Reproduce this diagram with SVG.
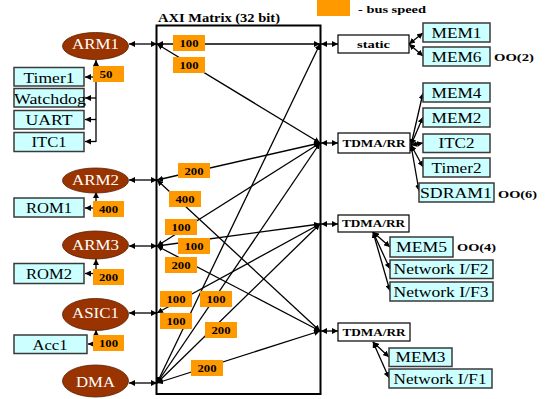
<svg xmlns="http://www.w3.org/2000/svg" width="546" height="399" viewBox="0 0 546 399">
<style>
.e{fill:#993300;stroke:#5a1e00;stroke-width:0.8}
.et{font-family:"Liberation Serif",serif;font-size:14px;fill:#fff;text-anchor:middle}
.b{fill:#ccffff;stroke:#3a3a3a;stroke-width:1.5}
.w{fill:#fff;stroke:#000;stroke-width:1.2}
.t{font-family:"Liberation Serif",serif;font-size:14px;fill:#000;text-anchor:middle}
.s{font-family:"Liberation Serif",serif;font-size:10px;font-weight:bold;fill:#000;text-anchor:middle}
.o{fill:#ff9900}
.ot{font-family:"Liberation Serif",serif;font-size:10.5px;font-weight:bold;fill:#000;text-anchor:middle}
.l{fill:none;stroke:#000;stroke-width:1.3;marker-end:url(#a)}
.d{fill:none;stroke:#000;stroke-width:1.3;marker-start:url(#a);marker-end:url(#a)}
</style>
<defs>
<marker id="a" viewBox="0 0 6 6" refX="6" refY="3" markerWidth="6" markerHeight="6" markerUnits="userSpaceOnUse" orient="auto-start-reverse"><path d="M0,0 L6,3 L0,6 z" fill="#000"/></marker>
</defs>

<!-- legend -->
<g id="legend">
<rect class="o" x="317" y="0" width="33" height="16"/>
<text x="358" y="13" font-family="Liberation Serif,serif" font-size="11" font-weight="bold" textLength="68" lengthAdjust="spacingAndGlyphs">- bus speed</text>
</g>

<!-- matrix -->
<g id="matrix">
<rect x="156.5" y="25.5" width="164" height="368.5" fill="none" stroke="#000" stroke-width="2"/>
<text x="158" y="22" font-family="Liberation Serif,serif" font-size="11.5" font-weight="bold" textLength="122" lengthAdjust="spacingAndGlyphs">AXI Matrix (32 bit)</text>
</g>

<g id="connectors">
<!-- ellipse to matrix -->
<line class="d" x1="129" y1="44" x2="157" y2="44"/>
<line class="d" x1="129" y1="180" x2="157" y2="180"/>
<line class="d" x1="129" y1="246" x2="157" y2="246"/>
<line class="d" x1="129" y1="313" x2="157" y2="313"/>
<line class="d" x1="129" y1="383" x2="157" y2="383"/>
<!-- matrix internal -->
<line class="d" x1="157" y1="44" x2="320" y2="44"/>
<line class="d" x1="157" y1="44" x2="320" y2="143"/>
<line class="d" x1="157" y1="180" x2="320" y2="143"/>
<line class="d" x1="157" y1="180" x2="320" y2="331"/>
<line class="d" x1="157" y1="246" x2="320" y2="143"/>
<line class="d" x1="157" y1="246" x2="320" y2="224"/>
<line class="d" x1="157" y1="246" x2="320" y2="331"/>
<line class="d" x1="157" y1="313" x2="320" y2="224"/>
<line class="d" x1="157" y1="383" x2="320" y2="44"/>
<line class="d" x1="157" y1="383" x2="320" y2="143"/>
<line class="d" x1="157" y1="383" x2="320" y2="224"/>
<line class="d" x1="157" y1="383" x2="320" y2="331"/>
<!-- matrix to arbiters -->
<line class="d" x1="321" y1="44" x2="338" y2="44"/>
<line class="d" x1="321" y1="143" x2="338" y2="143"/>
<line class="d" x1="321" y1="224" x2="338" y2="224"/>
<line class="d" x1="321" y1="331" x2="338" y2="331"/>
<!-- static -->
<line class="d" x1="409" y1="44" x2="423" y2="33"/>
<line class="d" x1="409" y1="44" x2="423" y2="56"/>
<!-- TDMA1 -->
<line class="d" x1="411" y1="145" x2="423" y2="93"/>
<line class="d" x1="411" y1="145" x2="423" y2="117"/>
<line class="d" x1="411" y1="145" x2="423" y2="143"/>
<line class="d" x1="411" y1="145" x2="423" y2="167"/>
<line class="d" x1="411" y1="145" x2="419" y2="191"/>
<!-- TDMA2 -->
<line class="d" x1="373" y1="232" x2="390" y2="247"/>
<line class="d" x1="373" y1="232" x2="390" y2="269"/>
<line class="d" x1="373" y1="232" x2="390" y2="291"/>
<!-- TDMA3 -->
<line class="d" x1="373" y1="342" x2="389" y2="357"/>
<line class="d" x1="373" y1="342" x2="389" y2="378"/>
<!-- left peripherals -->
<line class="l" x1="96" y1="142" x2="96" y2="60"/>
<line class="l" x1="96" y1="77" x2="85" y2="77"/>
<line class="l" x1="96" y1="98" x2="85" y2="98"/>
<line class="l" x1="96" y1="119.5" x2="85" y2="119.5"/>
<line class="l" x1="96" y1="141.5" x2="85" y2="141.5"/>
<line class="l" x1="96" y1="208" x2="96" y2="192"/>
<line class="l" x1="96" y1="208" x2="85" y2="208"/>
<line class="l" x1="96" y1="273.5" x2="96" y2="259"/>
<line class="l" x1="96" y1="273.5" x2="85" y2="273.5"/>
<line class="l" x1="96" y1="344" x2="96" y2="330"/>
<line class="l" x1="96" y1="344" x2="88" y2="344"/>
</g>

<g id="speeds">
<rect class="o" x="93" y="66" width="31" height="16"/><text class="ot" x="106" y="78" textLength="13" lengthAdjust="spacingAndGlyphs">50</text>
<rect class="o" x="93" y="201" width="31" height="16"/><text class="ot" x="108.5" y="213" textLength="19" lengthAdjust="spacingAndGlyphs">400</text>
<rect class="o" x="93" y="269" width="31" height="16"/><text class="ot" x="108.5" y="281" textLength="19" lengthAdjust="spacingAndGlyphs">200</text>
<rect class="o" x="93" y="335" width="31" height="16"/><text class="ot" x="108.5" y="347" textLength="19" lengthAdjust="spacingAndGlyphs">100</text>
<rect class="o" x="173" y="35" width="32" height="16"/><text class="ot" x="189" y="47" textLength="19" lengthAdjust="spacingAndGlyphs">100</text>
<rect class="o" x="173" y="57" width="32" height="16"/><text class="ot" x="189" y="69" textLength="19" lengthAdjust="spacingAndGlyphs">100</text>
<rect class="o" x="178" y="163" width="32" height="15"/><text class="ot" x="194" y="174.5" textLength="19" lengthAdjust="spacingAndGlyphs">200</text>
<rect class="o" x="169" y="191" width="32" height="16"/><text class="ot" x="185" y="203" textLength="19" lengthAdjust="spacingAndGlyphs">400</text>
<rect class="o" x="165" y="219" width="32" height="16"/><text class="ot" x="181" y="231" textLength="19" lengthAdjust="spacingAndGlyphs">100</text>
<rect class="o" x="178" y="238" width="32" height="16"/><text class="ot" x="194" y="250" textLength="19" lengthAdjust="spacingAndGlyphs">100</text>
<rect class="o" x="165" y="257" width="32" height="16"/><text class="ot" x="181" y="269" textLength="19" lengthAdjust="spacingAndGlyphs">200</text>
<rect class="o" x="160" y="291" width="32" height="16"/><text class="ot" x="176" y="303" textLength="19" lengthAdjust="spacingAndGlyphs">100</text>
<rect class="o" x="200" y="291" width="32" height="16"/><text class="ot" x="216" y="303" textLength="19" lengthAdjust="spacingAndGlyphs">100</text>
<rect class="o" x="160" y="313" width="32" height="16"/><text class="ot" x="176" y="325" textLength="19" lengthAdjust="spacingAndGlyphs">100</text>
<rect class="o" x="205" y="322" width="32" height="16"/><text class="ot" x="221" y="334" textLength="19" lengthAdjust="spacingAndGlyphs">200</text>
<rect class="o" x="191" y="360" width="32" height="16"/><text class="ot" x="207" y="372" textLength="19" lengthAdjust="spacingAndGlyphs">200</text>
</g>

<!-- masters -->
<g id="ARM1"><ellipse class="e" cx="95.5" cy="46" rx="33" ry="13.5"/><text class="et" x="95.5" y="48.5" textLength="47" lengthAdjust="spacingAndGlyphs">ARM1</text></g>
<g id="ARM2"><ellipse class="e" cx="95.5" cy="180.5" rx="33" ry="12.5"/><text class="et" x="95.5" y="184.5" textLength="47" lengthAdjust="spacingAndGlyphs">ARM2</text></g>
<g id="ARM3"><ellipse class="e" cx="95.5" cy="245" rx="33" ry="14"/><text class="et" x="95.5" y="250" textLength="47" lengthAdjust="spacingAndGlyphs">ARM3</text></g>
<g id="ASIC1"><ellipse class="e" cx="95.5" cy="314.5" rx="33" ry="16"/><text class="et" x="95.5" y="317.5" textLength="47" lengthAdjust="spacingAndGlyphs">ASIC1</text></g>
<g id="DMA"><ellipse class="e" cx="95.5" cy="381" rx="33" ry="16"/><text class="et" x="95.5" y="386.5" textLength="39" lengthAdjust="spacingAndGlyphs">DMA</text></g>

<!-- left peripherals -->
<g id="Timer1"><rect class="b" x="14" y="67.5" width="70" height="18.5"/><text class="t" x="49" y="83" textLength="51" lengthAdjust="spacingAndGlyphs">Timer1</text></g>
<g id="Watchdog"><rect class="b" x="14" y="88.5" width="70" height="18.5"/><text class="t" x="50" y="104" textLength="72" lengthAdjust="spacingAndGlyphs">Watchdog</text></g>
<g id="UART"><rect class="b" x="14" y="110.5" width="70" height="18.5"/><text class="t" x="49" y="125" textLength="47" lengthAdjust="spacingAndGlyphs">UART</text></g>
<g id="ITC1"><rect class="b" x="14" y="132.5" width="70" height="19"/><text class="t" x="49" y="146.5" textLength="35" lengthAdjust="spacingAndGlyphs">ITC1</text></g>
<g id="ROM1"><rect class="b" x="14" y="198" width="70" height="19"/><text class="t" x="49" y="213" textLength="46" lengthAdjust="spacingAndGlyphs">ROM1</text></g>
<g id="ROM2"><rect class="b" x="14" y="263.5" width="70" height="20"/><text class="t" x="49" y="279" textLength="46" lengthAdjust="spacingAndGlyphs">ROM2</text></g>
<g id="Acc1"><rect class="b" x="14" y="335" width="73" height="18.5"/><text class="t" x="50" y="349.5" textLength="35" lengthAdjust="spacingAndGlyphs">Acc1</text></g>

<!-- arbiters -->
<g id="static"><rect class="w" x="338" y="35" width="71" height="18"/><text class="s" x="373.5" y="48" textLength="33" lengthAdjust="spacingAndGlyphs">static</text></g>
<g id="TDMA1"><rect class="w" x="338" y="133" width="72" height="20"/><text class="s" x="374" y="146.5" textLength="63" lengthAdjust="spacingAndGlyphs">TDMA/RR</text></g>
<g id="TDMA2"><rect class="w" x="338" y="215" width="71" height="17"/><text class="s" x="373.5" y="226.5" textLength="63" lengthAdjust="spacingAndGlyphs">TDMA/RR</text></g>
<g id="TDMA3"><rect class="w" x="338" y="323" width="72" height="18"/><text class="s" x="374" y="335.5" textLength="63" lengthAdjust="spacingAndGlyphs">TDMA/RR</text></g>

<!-- slaves -->
<g id="MEM1"><rect class="b" x="423" y="23" width="67" height="19"/><text class="t" x="456.5" y="37.5" textLength="50" lengthAdjust="spacingAndGlyphs">MEM1</text></g>
<g id="MEM6"><rect class="b" x="423" y="47" width="67" height="19"/><text class="t" x="456.5" y="61.5" textLength="50" lengthAdjust="spacingAndGlyphs">MEM6</text><text x="494" y="61" font-family="Liberation Serif,serif" font-size="11" font-weight="bold" textLength="40" lengthAdjust="spacingAndGlyphs">OO(2)</text></g>
<g id="MEM4"><rect class="b" x="423" y="83" width="67" height="19"/><text class="t" x="456.5" y="97.5" textLength="50" lengthAdjust="spacingAndGlyphs">MEM4</text></g>
<g id="MEM2"><rect class="b" x="423" y="108" width="67" height="19"/><text class="t" x="456.5" y="122.5" textLength="50" lengthAdjust="spacingAndGlyphs">MEM2</text></g>
<g id="ITC2"><rect class="b" x="423" y="134" width="67" height="18.5"/><text class="t" x="456.5" y="148" textLength="36" lengthAdjust="spacingAndGlyphs">ITC2</text></g>
<g id="Timer2"><rect class="b" x="423" y="158" width="67" height="19"/><text class="t" x="456.5" y="172.5" textLength="50" lengthAdjust="spacingAndGlyphs">Timer2</text></g>
<g id="SDRAM1"><rect class="b" x="419" y="183" width="75" height="19"/><text class="t" x="456" y="197.5" textLength="72" lengthAdjust="spacingAndGlyphs">SDRAM1</text><text x="498" y="198" font-family="Liberation Serif,serif" font-size="11" font-weight="bold" textLength="39" lengthAdjust="spacingAndGlyphs">OO(6)</text></g>
<g id="MEM5"><rect class="b" x="390" y="237" width="63" height="20"/><text class="t" x="421.5" y="252" textLength="51" lengthAdjust="spacingAndGlyphs">MEM5</text><text x="457" y="251" font-family="Liberation Serif,serif" font-size="11" font-weight="bold" textLength="39" lengthAdjust="spacingAndGlyphs">OO(4)</text></g>
<g id="NIF2"><rect class="b" x="390" y="260" width="103" height="18.5"/><text class="t" x="441" y="274" textLength="95" lengthAdjust="spacingAndGlyphs">Network I/F2</text></g>
<g id="NIF3"><rect class="b" x="390" y="282" width="103" height="19"/><text class="t" x="441" y="296.5" textLength="95" lengthAdjust="spacingAndGlyphs">Network I/F3</text></g>
<g id="MEM3"><rect class="b" x="389" y="348" width="63" height="18.5"/><text class="t" x="420.5" y="362" textLength="50" lengthAdjust="spacingAndGlyphs">MEM3</text></g>
<g id="NIF1"><rect class="b" x="389" y="369" width="103" height="19"/><text class="t" x="440" y="383.5" textLength="93" lengthAdjust="spacingAndGlyphs">Network I/F1</text></g>
</svg>
